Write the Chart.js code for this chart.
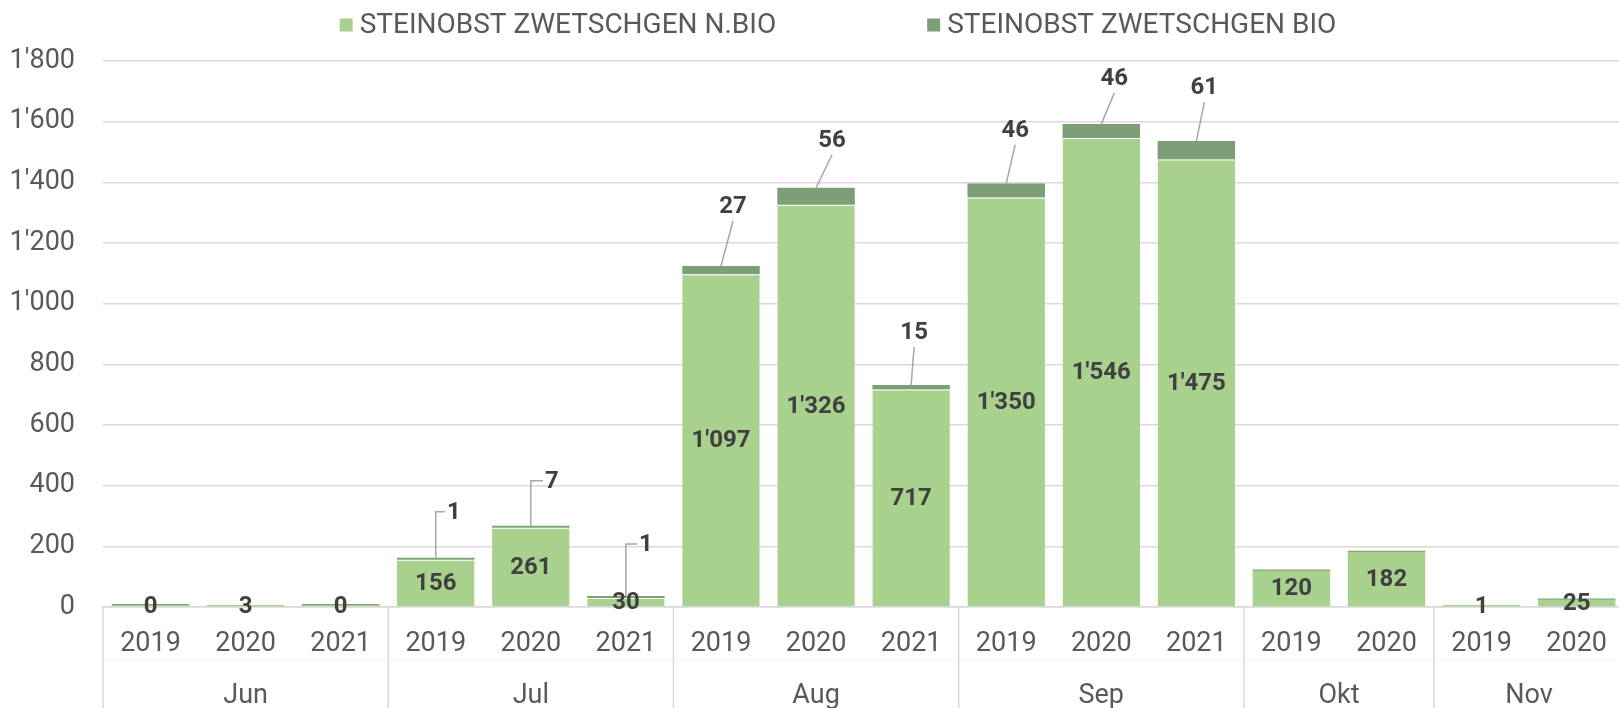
<!DOCTYPE html>
<html lang="de">
<head>
  <meta charset="UTF-8">
  <title>Steinobst Zwetschgen</title>
  <script src="https://cdn.jsdelivr.net/npm/chart.js"></script>
  <style>
    html, body { margin: 0; padding: 0; background: #fff; overflow: hidden; }
    /* plot runs a little past the right window edge, like the original */
    #chart-container { width: 1628px; height: 708px; }
  </style>
</head>
<body>
  <div id="chart-container">
    <canvas id="myChart"></canvas>
  </div>

  <script>
  // categories (two levels: year inside month)
  const years  = ['2019', '2020', '2021', '2019', '2020', '2021', '2019', '2020', '2021', '2019', '2020', '2021', '2019', '2020', '2019', '2020'];
  const months = ['Jun', 'Jun', 'Jun', 'Jul', 'Jul', 'Jul', 'Aug', 'Aug', 'Aug', 'Sep', 'Sep', 'Sep', 'Okt', 'Okt', 'Nov', 'Nov'];

  // series
  const seriesNames = ['STEINOBST ZWETSCHGEN N.BIO', 'STEINOBST ZWETSCHGEN BIO'];
  const nbio = [0, 3, 0, 156, 261, 30, 1097, 1326, 717, 1350, 1546, 1475, 120, 182, 1, 25];
  const bio  = [0, null, 0, 1, 7, 1, 27, 56, 15, 46, 46, 61, 0, 0, null, 0];

  // value axis
  const yMin = 0, yMax = 1800, yStep = 200;

  const colors = { nbio: '#a9d18e', bio: '#7e9e78', text: '#595959', label: '#404040', grid: '#d9d9d9', leader: '#a6a6a6' };

  // where the BIO callouts sit relative to the bar top: [dx, dy, style]
  const bioCallouts = [null, null, null,
    [18, -46, 'elbow'], [21, -45, 'elbow'], [20, -52, 'elbow'],
    [12, -60, 'line'], [16, -48, 'line'], [3, -53, 'line'],
    [9, -54, 'line'], [13, -46, 'line'], [8, -54, 'line'],
    null, null, null, null];

  function fmt(v) {
    return String(Math.round(v)).replace(/\B(?=(\d{3})+(?!\d))/g, "'");
  }

  const decor = {
    id: 'decor',
    afterDatasetsDraw(chart) {
      const ctx = chart.ctx;
      const m0 = chart.getDatasetMeta(0);
      const m1 = chart.getDatasetMeta(1);
      ctx.save();
      ctx.textAlign = 'center';
      ctx.textBaseline = 'middle';
      ctx.font = 'bold 24px Roboto';
      ctx.fillStyle = colors.label;

      // N.BIO labels, centred in the segment
      m0.data.forEach((el, i) => {
        if (nbio[i] == null) return;
        ctx.fillText(fmt(nbio[i]), el.x, (el.y + el.base) / 2 + 1);
      });

      // BIO callouts above the bars
      m1.data.forEach((el, i) => {
        const c = bioCallouts[i];
        if (!c || !(bio[i] > 0)) return;
        const [dx, dy, style] = c;
        const txt = fmt(bio[i]);
        const w = ctx.measureText(txt).width;
        ctx.strokeStyle = colors.leader;
        ctx.lineWidth = 1.5;
        ctx.beginPath();
        ctx.moveTo(el.x, el.y);
        if (style === 'elbow') {
          ctx.lineTo(el.x, el.y + dy);
          ctx.lineTo(el.x + dx - w / 2 - 2, el.y + dy);
        } else {
          ctx.lineTo(el.x + dx, el.y + dy + 15);
        }
        ctx.stroke();
        ctx.fillText(txt, el.x + dx, el.y + dy + 1);
      });
      ctx.restore();
    },
    afterDraw(chart) {
      const ctx = chart.ctx;
      const area = chart.chartArea;
      const xs = chart.scales.x;
      const step = xs.getPixelForValue(1) - xs.getPixelForValue(0);
      ctx.save();

      // faint line between year row and month row
      ctx.strokeStyle = '#f4f4f4';
      ctx.lineWidth = 1;
      ctx.beginPath();
      ctx.moveTo(area.left, 659.5);
      ctx.lineTo(area.right, 659.5);
      ctx.stroke();

      // group dividers and month labels
      ctx.font = '27px Roboto';
      ctx.fillStyle = colors.text;
      ctx.textAlign = 'center';
      ctx.textBaseline = 'middle';
      let start = 0;
      for (let i = 1; i <= months.length; i++) {
        if (i === months.length || months[i] !== months[start]) {
          const x0 = xs.getPixelForValue(start) - step / 2;
          const x1 = xs.getPixelForValue(i - 1) + step / 2;
          ctx.strokeStyle = colors.grid;
          ctx.lineWidth = 1.5;
          ctx.beginPath();
          ctx.moveTo(x0, area.bottom);
          ctx.lineTo(x0, chart.height);
          ctx.stroke();
          ctx.fillText(months[start], (x0 + x1) / 2, 696);
          start = i;
        }
      }

      // legend
      ctx.font = '28px Roboto';
      const box = 13, gapBox = 7, gapItem = 151;
      const widths = seriesNames.map(n => ctx.measureText(n).width);
      const total = widths.reduce((a, w) => a + box + gapBox + w, 0) + gapItem * (seriesNames.length - 1);
      let lx = 838 - total / 2;
      const ly = 25;
      ctx.textAlign = 'left';
      seriesNames.forEach((n, i) => {
        ctx.fillStyle = i === 0 ? colors.nbio : colors.bio;
        ctx.fillRect(lx, ly - box / 2, box, box);
        ctx.fillStyle = colors.text;
        ctx.fillText(n, lx + box + gapBox, ly + 1);
        lx += box + gapBox + widths[i] + gapItem;
      });
      ctx.restore();
    }
  };

  const chart = new Chart(document.getElementById('myChart'), {
    type: 'bar',
    data: {
      labels: years,
      datasets: [
        {
          label: seriesNames[0],
          data: nbio,
          backgroundColor: colors.nbio,
          borderColor: '#ffffff',
          borderWidth: ctx => (bio[ctx.dataIndex] > 0 ? { top: 1, left: 0, right: 0, bottom: 0 } : 0),
          borderSkipped: 'start',
          minBarLength: 2,
          barPercentage: 0.815,
          categoryPercentage: 1
        },
        {
          label: seriesNames[1],
          data: bio,
          backgroundColor: colors.bio,
          borderWidth: 0,
          minBarLength: 2,
          barPercentage: 0.815,
          categoryPercentage: 1
        }
      ]
    },
    options: {
      responsive: true,
      maintainAspectRatio: false,
      animation: false,
      layout: { padding: { top: 61, left: 0, right: 0, bottom: 0 } },
      plugins: {
        legend: { display: false },
        tooltip: { enabled: false }
      },
      scales: {
        x: {
          stacked: true,
          grid: { display: false, drawTicks: false },
          border: { display: true, color: colors.grid, width: 1.5 },
          ticks: {
            color: colors.text,
            font: { family: 'Roboto', size: 27 },
            padding: 21,
            autoSkip: false,
            maxRotation: 0
          },
          afterFit: s => { s.height = 101; }
        },
        y: {
          stacked: true,
          min: yMin,
          max: yMax,
          grid: { color: colors.grid, lineWidth: 1.5, drawTicks: false },
          border: { display: false },
          ticks: {
            stepSize: yStep,
            color: colors.text,
            font: { family: 'Roboto', size: 27 },
            padding: 28,
            callback: v => fmt(v)
          },
          afterFit: s => { s.width = 103; }
        }
      }
    },
    plugins: [decor]
  });
  </script>
</body>
</html>
